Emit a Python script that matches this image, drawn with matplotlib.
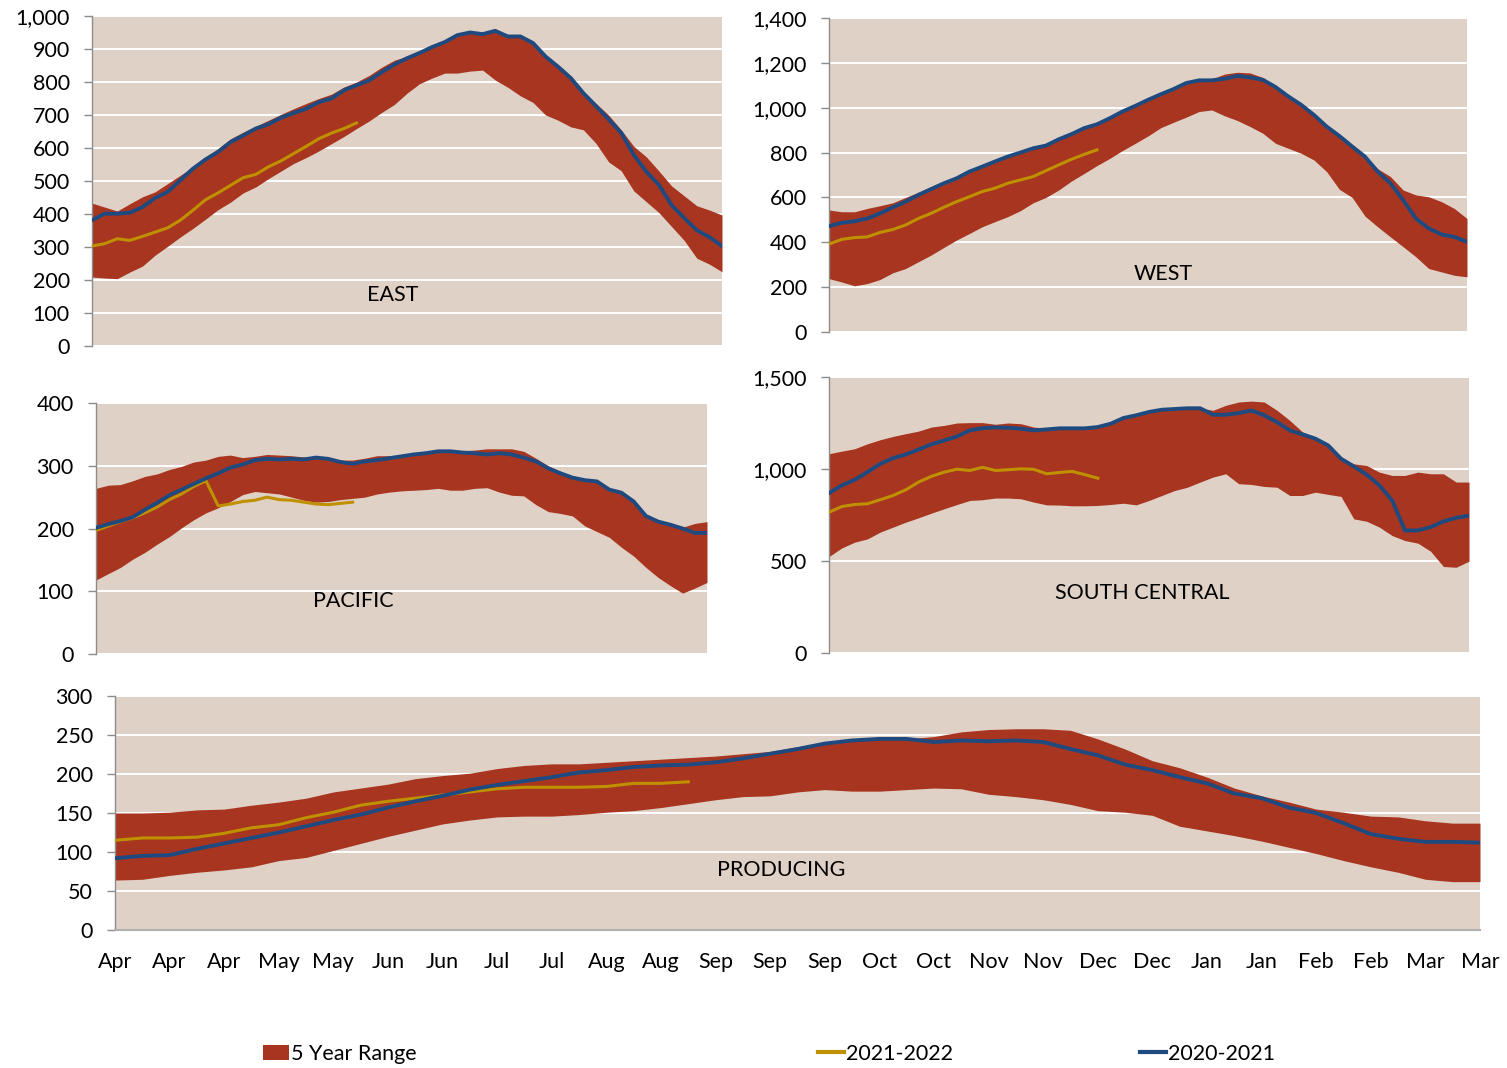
import matplotlib
matplotlib.use("Agg")
import matplotlib.pyplot as plt
from matplotlib.patches import Patch
from matplotlib.lines import Line2D
from matplotlib.ticker import FuncFormatter, MultipleLocator
import numpy as np

plt.rcParams['font.family'] = ['Lato', 'DejaVu Sans']

# ---------------- data (weekly, 51 weeks Apr -> Mar) ----------------
tick_labels = ['Apr', 'Apr', 'Apr', 'May', 'May', 'Jun', 'Jun', 'Jul', 'Jul', 'Aug', 'Aug',
               'Sep', 'Sep', 'Sep', 'Oct', 'Oct', 'Nov', 'Nov', 'Dec', 'Dec', 'Jan', 'Jan',
               'Feb', 'Feb', 'Mar', 'Mar']

east_hi = [433, 421, 409, 431, 452, 467, 492, 517, 542, 573, 598, 628, 648, 666, 684, 702, 719, 735,
           750, 763, 785, 800, 820, 845, 866, 878, 893, 910, 927, 946, 953, 950, 957, 942, 942, 922,
           882, 850, 817, 772, 735, 700, 655, 605, 573, 530, 485, 455, 425, 412, 397]
east_lo = [209, 206, 204, 224, 242, 275, 302, 330, 356, 384, 413, 436, 464, 482, 507, 530, 553, 571,
           591, 613, 635, 659, 682, 708, 732, 766, 795, 812, 827, 827, 833, 836, 806, 784, 758, 738,
           700, 684, 664, 655, 614, 558, 531, 470, 437, 404, 362, 320, 266, 248, 225]
east_2021 = [381, 401, 401, 404, 421, 448, 467, 502, 537, 565, 588, 618, 638, 659, 672, 692, 706, 719,
             739, 750, 775, 790, 805, 830, 853, 872, 888, 906, 921, 942, 950, 945, 955, 938, 938, 918,
             877, 846, 812, 766, 727, 687, 646, 579, 528, 488, 427, 388, 351, 330, 303]
east_2122 = [303, 310, 325, 320, 332, 345, 358, 381, 411, 443, 464, 487, 510, 520, 543, 561, 583, 605,
             628, 645, 659, 676]

west_hi = [544, 536, 536, 551, 563, 576, 600, 623, 648, 672, 696, 722, 745, 768, 790, 808, 826, 840,
           866, 890, 915, 933, 960, 990, 1015, 1042, 1066, 1090, 1115, 1128, 1128, 1150, 1158, 1155,
           1135, 1100, 1058, 1020, 975, 922, 878, 832, 788, 728, 693, 633, 611, 603, 581, 551, 506]
west_lo = [238, 223, 206, 216, 234, 264, 283, 313, 343, 377, 410, 439, 469, 492, 514, 541, 576, 600,
           633, 673, 707, 742, 774, 809, 841, 874, 911, 935, 958, 983, 990, 964, 943, 916, 886, 841,
           819, 797, 767, 715, 636, 600, 517, 469, 424, 380, 335, 283, 268, 253, 246]
west_2021 = [472, 487, 494, 506, 529, 556, 581, 611, 637, 663, 685, 715, 737, 760, 782, 800, 819, 831,
             859, 882, 909, 926, 953, 983, 1008, 1035, 1060, 1083, 1110, 1122, 1122, 1129, 1142, 1135,
             1124, 1092, 1050, 1013, 968, 916, 874, 827, 782, 715, 663, 588, 506, 462, 435, 424, 402]
west_2122 = [392, 413, 421, 424, 444, 457, 477, 506, 529, 556, 581, 603, 626, 641, 663, 678, 693, 719,
             745, 770, 792, 812]

pac_hi = [264, 269, 270, 276, 283, 287, 294, 299, 306, 309, 315, 317, 313, 315, 318, 317, 316, 314,
          314, 311, 309, 309, 312, 316, 316, 317, 320, 321, 325, 325, 324, 325, 327, 327, 327, 323,
          312, 300, 291, 283, 278, 275, 264, 257, 246, 221, 212, 206, 202, 208, 211]
pac_lo = [118, 128, 138, 151, 162, 175, 187, 201, 214, 225, 233, 243, 254, 259, 257, 255, 250, 245,
          242, 243, 246, 248, 250, 255, 258, 260, 261, 262, 264, 261, 261, 264, 265, 258, 253, 252,
          238, 227, 224, 220, 204, 195, 186, 170, 156, 138, 122, 109, 97, 105, 114]
pac_2021 = [201, 207, 212, 218, 230, 241, 253, 262, 271, 280, 288, 297, 302, 309, 311, 310, 311, 310,
            313, 311, 306, 303, 307, 309, 312, 315, 318, 320, 323, 323, 321, 320, 318, 320, 318, 313,
            307, 296, 288, 281, 277, 275, 262, 257, 243, 220, 211, 206, 200, 193, 193]
pac_2122 = [197, 204, 211, 217, 225, 234, 246, 255, 267, 276, 236, 239, 243, 245, 250, 246, 245, 242,
            239, 238, 240, 242]

sc_hi = [1083, 1097, 1110, 1137, 1159, 1177, 1192, 1206, 1228, 1237, 1250, 1252, 1252, 1243, 1250,
         1246, 1228, 1221, 1222, 1222, 1222, 1229, 1247, 1278, 1293, 1311, 1323, 1327, 1331, 1331,
         1319, 1346, 1364, 1369, 1364, 1319, 1264, 1201, 1170, 1134, 1056, 1028, 1019, 983, 965, 965,
         983, 974, 974, 929, 929]
sc_lo = [524, 571, 602, 620, 657, 684, 711, 735, 760, 784, 807, 829, 833, 842, 842, 838, 820, 805, 804,
         800, 800, 802, 807, 814, 805, 829, 856, 883, 901, 929, 956, 974, 920, 916, 905, 901, 856, 856,
         874, 862, 851, 729, 716, 684, 638, 611, 597, 553, 470, 466, 499]
sc_2021 = [869, 911, 941, 983, 1028, 1059, 1079, 1106, 1134, 1155, 1177, 1210, 1222, 1226, 1224, 1219,
           1210, 1215, 1221, 1221, 1221, 1228, 1246, 1277, 1292, 1310, 1322, 1326, 1330, 1330, 1295,
           1295, 1304, 1318, 1292, 1255, 1210, 1188, 1165, 1128, 1056, 1014, 970, 911, 829, 666, 666,
           684, 715, 735, 746]
sc_2122 = [765, 796, 807, 811, 833, 856, 887, 929, 960, 983, 999, 992, 1009, 992, 996, 1001, 998, 974,
           981, 987, 969, 950]

prod_hi = [150, 150, 151, 154, 155, 160, 164, 169, 177, 182, 187, 194, 198, 201, 207, 211, 213, 213,
           215, 217, 219, 221, 223, 226, 229, 235, 240, 243, 245, 245, 248, 254, 257, 258, 258, 256,
           245, 232, 217, 208, 196, 182, 172, 164, 155, 151, 146, 145, 140, 137, 137]
prod_lo = [64, 65, 70, 74, 77, 81, 89, 93, 102, 111, 120, 128, 136, 141, 145, 146, 146, 148, 151, 153,
           157, 162, 167, 171, 172, 177, 180, 178, 178, 180, 182, 181, 174, 171, 167, 161, 153, 151,
           147, 133, 127, 121, 114, 106, 98, 89, 81, 74, 65, 62, 62]
prod_2021 = [92, 95, 96, 104, 111, 118, 125, 133, 141, 148, 157, 165, 172, 180, 186, 191, 196, 202, 205,
             209, 211, 212, 215, 220, 226, 232, 239, 243, 245, 245, 241, 243, 242, 243, 241, 232, 224,
             212, 205, 196, 188, 175, 169, 157, 150, 137, 123, 117, 113, 113, 112]
prod_2122 = [115, 118, 118, 119, 124, 131, 135, 144, 151, 160, 165, 169, 173, 177, 181, 183, 183, 183,
             184, 188, 188, 190]

# ---------------- style ----------------
BG = '#E0D1C6'
RANGE = '#A8351F'
BLUE = '#1F4A80'
GOLD = '#BF9000'
FS = 15.5

W, H = 1507, 1068
fig = plt.figure(figsize=(W / 100, H / 100), dpi=100)


def px_axes(left, top, right, bottom):
    return fig.add_axes([left / W, 1 - bottom / H, (right - left) / W, (bottom - top) / H])


def panel(ax, hi, lo, s2021, s2122, ymax, ystep, label, lx, ly, xticks=False):
    weeks = np.arange(len(hi))
    ax.set_facecolor(BG)
    ax.fill_between(weeks, lo, hi, color=RANGE, linewidth=0, zorder=2)
    ax.plot(np.arange(len(s2122)), s2122, color=GOLD, lw=2.2, zorder=3, solid_joinstyle='round')
    ax.plot(weeks, s2021, color=BLUE, lw=2.8, zorder=4, solid_joinstyle='round')
    ax.set_xlim(0, len(hi) - 1)
    ax.set_ylim(0, ymax)
    ax.yaxis.set_major_locator(MultipleLocator(ystep))
    ax.yaxis.set_major_formatter(FuncFormatter(lambda v, p: f"{int(v):,}"))
    ax.set_axisbelow(True)
    ax.grid(axis='y', color='white', lw=1.4, zorder=1)
    ax.grid(axis='x', visible=False)
    for s in ['top', 'right']:
        ax.spines[s].set_visible(False)
    ax.spines['left'].set_color('#8C8C8C')
    ax.spines['left'].set_linewidth(1.0)
    ax.tick_params(axis='y', length=6, width=1.0, color='#8C8C8C', pad=10, labelsize=FS,
                   labelcolor='black')
    if xticks:
        ax.spines['bottom'].set_color('#B0B0B0')
        ax.spines['bottom'].set_linewidth(1.5)
        ax.set_xticks(np.arange(0, len(hi), 2))
        ax.set_xticklabels(tick_labels, fontsize=FS)
        ax.tick_params(axis='x', length=0, pad=16)
    else:
        ax.spines['bottom'].set_visible(False)
        ax.set_xticks([])
    ax.text(lx, ly, label, transform=ax.transAxes, ha='center', va='center', fontsize=FS,
            color='black', zorder=5)


ax_e = px_axes(92, 16, 722, 346)
panel(ax_e, east_hi, east_lo, east_2021, east_2122, 1000, 100, 'EAST', 0.478, 0.155)

ax_w = px_axes(829, 18, 1467, 332)
panel(ax_w, west_hi, west_lo, west_2021, west_2122, 1400, 200, 'WEST', 0.524, 0.185)

ax_p = px_axes(96, 403, 707, 654)
panel(ax_p, pac_hi, pac_lo, pac_2021, pac_2122, 400, 100, 'PACIFIC', 0.421, 0.211)

ax_s = px_axes(829, 377, 1469, 653)
panel(ax_s, sc_hi, sc_lo, sc_2021, sc_2122, 1500, 500, 'SOUTH CENTRAL', 0.489, 0.217)

ax_pr = px_axes(115, 696, 1480, 930)
panel(ax_pr, prod_hi, prod_lo, prod_2021, prod_2122, 300, 50, 'PRODUCING', 0.488, 0.256,
      xticks=True)

# ---------------- legend ----------------
ly = 1 - 1054 / H
entries = [
    (263, Patch(facecolor=RANGE, edgecolor='none'), '5 Year Range'),
    (818, Line2D([], [], color=GOLD, lw=3), '2021-2022'),
    (1140, Line2D([], [], color=BLUE, lw=3), '2020-2021'),
]
for x, h, t in entries:
    fig.legend([h], [t], loc='center left', bbox_to_anchor=(x / W, ly), frameon=False,
               fontsize=FS, handlelength=1.2, handleheight=0.75, handletextpad=0.12,
               borderpad=0, borderaxespad=0)

fig.savefig('out.png', dpi=100)
